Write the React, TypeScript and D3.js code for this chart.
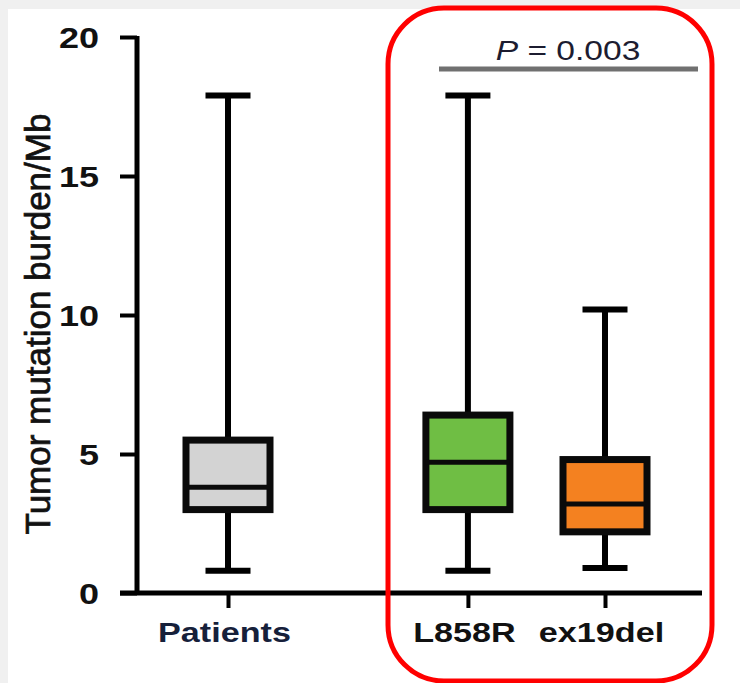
import React, { useEffect, useRef } from "react";
import * as d3 from "d3";

// box plot: tumor mutation burden by EGFR mutation type
const categories = ["Patients", "L858R", "ex19del"];
const slots = [0, 1.75, 2.75];
const whiskerLow = [0.8, 0.8, 0.9];
const q1 = [3.0, 3.0, 2.2];
const medians = [3.8, 4.7, 3.2];
const q3 = [5.5, 6.4, 4.8];
const whiskerHigh = [17.9, 17.9, 10.2];
const boxColors = ["#d3d3d3", "#6fbe44", "#f48120"];
const yTicks = [0, 5, 10, 15, 20];
const yLabel = "Tumor mutation burden/Mb";
const pLetter = "P";
const pRest = " = 0.003";

export default function App() {
  const svgRef = useRef<SVGSVGElement | null>(null);

  useEffect(() => {
    const width = 740;
    const height = 683;
    const svg = d3.select(svgRef.current).attr("width", width).attr("height", height);
    svg.selectAll("*").remove();

    svg.append("rect").attr("width", width).attr("height", height).attr("fill", "#f0f0f0");
    svg.append("rect").attr("x", 8).attr("y", 9).attr("width", width - 8).attr("height", height - 9).attr("fill", "#fff");

    const y = d3.scaleLinear().domain([0, 20]).range([593, 37]);
    const xs = d3.scaleLinear().domain([0, 2.75]).range([228, 605]);
    const x = d3.scaleOrdinal<string, number>().domain(categories).range(slots.map((s) => xs(s)));

    const font = "'Liberation Sans', Arial, sans-serif";

    // y axis
    const yAxis = d3.axisLeft(y).tickValues(yTicks).tickSize(17).tickFormat(d3.format("d"));
    const gy = svg.append("g").attr("transform", "translate(137,0)").call(yAxis);
    gy.select(".domain").remove();
    gy.selectAll(".tick line").attr("stroke", "#000").attr("stroke-width", 4);
    gy.selectAll(".tick text").remove();
    gy.selectAll(".tick")
      .append("text")
      .attr("transform", "translate(-38,0) scale(1.2,1)")
      .attr("text-anchor", "end")
      .attr("dy", "0.36em")
      .attr("fill", "#111")
      .style("font", `bold 30px ${font}`)
      .text((d: any) => d);
    svg.append("line")
      .attr("x1", 137).attr("x2", 137)
      .attr("y1", y(20) - 1).attr("y2", y(0) + 2)
      .attr("stroke", "#000").attr("stroke-width", 5);

    // x axis
    svg.append("line")
      .attr("x1", 120).attr("x2", 702)
      .attr("y1", y(0)).attr("y2", y(0))
      .attr("stroke", "#000").attr("stroke-width", 5);
    const xAxis = d3.axisBottom(x as any).tickSize(15);
    const gx = svg.append("g").attr("transform", `translate(0,${y(0)})`).call(xAxis);
    gx.select(".domain").remove();
    gx.selectAll(".tick line").attr("stroke", "#000").attr("stroke-width", 4);
    gx.selectAll(".tick text").remove();
    gx.selectAll(".tick")
      .append("text")
      .attr("transform", "translate(-4,49) scale(1.22,1)")
      .attr("text-anchor", "middle")
      .attr("fill", (d: any, i: number) => (i === 0 ? "#16203a" : "#111"))
      .style("font", `bold 28px ${font}`)
      .text((d: any) => d);

    // y label
    svg.append("text")
      .attr("transform", "translate(50,324) rotate(-90)")
      .attr("text-anchor", "middle")
      .attr("fill", "#111")
      .attr("stroke", "#111")
      .attr("stroke-width", 0.7)
      .style("font", `35px ${font}`)
      .text(yLabel);

    // boxes
    const boxW = 84;
    const capW = 45;
    categories.forEach((c, i) => {
      const cx = x(c);
      const g = svg.append("g");
      g.append("line")
        .attr("x1", cx).attr("x2", cx)
        .attr("y1", y(whiskerLow[i])).attr("y2", y(whiskerHigh[i]))
        .attr("stroke", "#000").attr("stroke-width", 6);
      [whiskerLow[i], whiskerHigh[i]].forEach((v) => {
        g.append("line")
          .attr("x1", cx - capW / 2).attr("x2", cx + capW / 2)
          .attr("y1", y(v)).attr("y2", y(v))
          .attr("stroke", "#000").attr("stroke-width", 6);
      });
      g.append("rect")
        .attr("x", cx - boxW / 2).attr("width", boxW)
        .attr("y", y(q3[i])).attr("height", y(q1[i]) - y(q3[i]))
        .attr("fill", boxColors[i])
        .attr("stroke", "#0a0a0a").attr("stroke-width", 7);
      g.append("line")
        .attr("x1", cx - boxW / 2).attr("x2", cx + boxW / 2)
        .attr("y1", y(medians[i])).attr("y2", y(medians[i]))
        .attr("stroke", "#0a0a0a").attr("stroke-width", 5);
    });

    // significance bar
    svg.append("line")
      .attr("x1", 439).attr("x2", 698)
      .attr("y1", 69).attr("y2", 69)
      .attr("stroke", "#707070").attr("stroke-width", 5);
    const pt = svg.append("text")
      .attr("transform", "translate(568,60) scale(1.2,1)")
      .attr("text-anchor", "middle")
      .attr("fill", "#1c1c30")
      .style("font", `28px ${font}`);
    pt.append("tspan").style("font-style", "italic").text(pLetter);
    pt.append("tspan").text(pRest);

    // highlight frame
    svg.append("rect")
      .attr("x", 388).attr("y", 8)
      .attr("width", 324).attr("height", 673)
      .attr("rx", 56).attr("ry", 56)
      .attr("fill", "none")
      .attr("stroke", "#ff0000").attr("stroke-width", 5);
  }, []);

  return (
    <div style={{ position: "absolute", left: 0, top: 0 }}>
      <svg ref={svgRef} style={{ display: "block" }}></svg>
    </div>
  );
}
